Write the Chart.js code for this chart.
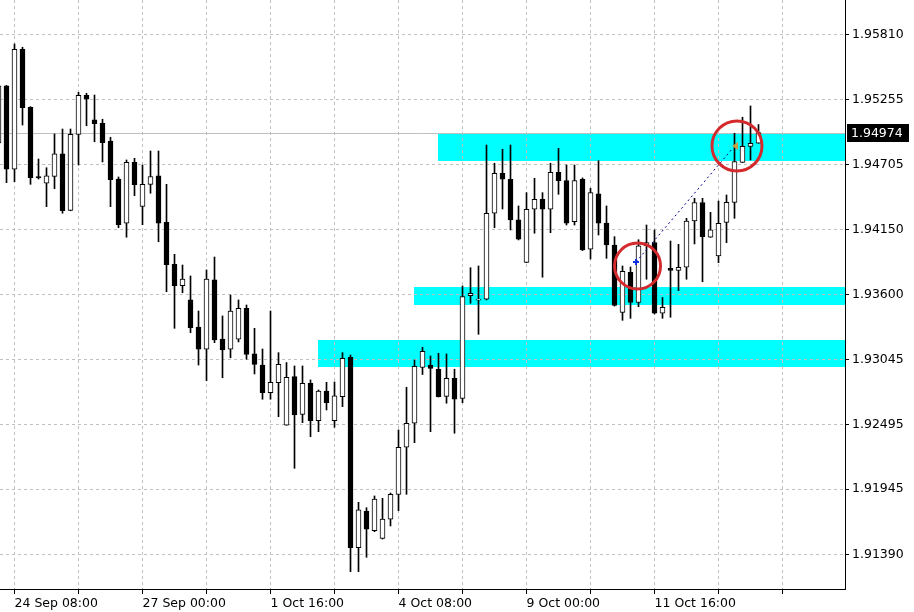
<!DOCTYPE html>
<html>
<head>
<meta charset="utf-8">
<script src="https://cdn.jsdelivr.net/npm/chart.js@4.4.1/dist/chart.umd.min.js"></script>
<style>
  html, body { margin: 0; padding: 0; background: #fff; }
  #wrap { width: 914px; height: 612px; }
</style>
</head>
<body>
<div id="wrap"><canvas id="chart" width="914" height="612"></canvas></div>
<script>
// H4 candles, left to right (first one is cut by the left edge)
const opens = [
  1.94886, 1.95371, 1.94663, 1.95683, 1.95190, 1.94600, 1.94544, 1.94603, 1.94793, 1.94314,
  1.94960, 1.95292, 1.95082, 1.95054, 1.94903, 1.94580, 1.94204, 1.94722, 1.94346, 1.94535,
  1.94606, 1.94212, 1.93855, 1.93673, 1.93552, 1.93322, 1.93133, 1.93722, 1.93220, 1.93133,
  1.93218, 1.93481, 1.93093, 1.92999, 1.92764, 1.92849, 1.92487, 1.92900, 1.92580, 1.92844,
  1.92526, 1.92778, 1.92526, 1.92730, 1.93065, 1.91446, 1.91758, 1.91591, 1.91526, 1.91688,
  1.91900, 1.92300, 1.92504, 1.92978, 1.92999, 1.92963, 1.92733, 1.92886, 1.92716, 1.93588,
  1.93550, 1.93558, 1.94289, 1.94629, 1.94578, 1.94232, 1.93872, 1.94323, 1.94408, 1.94323,
  1.94637, 1.94566, 1.94217, 1.94578, 1.93983, 1.94453, 1.94206, 1.94019, 1.93445, 1.93787,
  1.93530, 1.94013, 1.94040, 1.93439, 1.93821, 1.93804, 1.93830, 1.94223, 1.94380, 1.94085,
  1.93926, 1.94212, 1.94382, 1.94722, 1.94856, 1.94884
];
const highs = [
  1.95380, 1.95375, 1.95728, 1.95700, 1.95195, 1.94750, 1.94676, 1.94963, 1.95005, 1.95005,
  1.95317, 1.95309, 1.95294, 1.95088, 1.94935, 1.94597, 1.94742, 1.94756, 1.94699, 1.94818,
  1.94818, 1.94535, 1.93940, 1.93849, 1.93756, 1.93458, 1.93807, 1.93917, 1.93416, 1.93594,
  1.93552, 1.93509, 1.93311, 1.93135, 1.93458, 1.93104, 1.93020, 1.92991, 1.92991, 1.92872,
  1.92787, 1.92852, 1.92855, 1.93104, 1.93084, 1.91832, 1.91786, 1.91886, 1.91866, 1.91911,
  1.92447, 1.92810, 1.93042, 1.93150, 1.93076, 1.93099, 1.93093, 1.92963, 1.93671, 1.93826,
  1.93841, 1.94869, 1.94714, 1.94833, 1.94869, 1.94351, 1.94464, 1.94586, 1.94464, 1.94714,
  1.94841, 1.94699, 1.94699, 1.94589, 1.94501, 1.94736, 1.94351, 1.94090, 1.93841, 1.93832,
  1.94064, 1.94189, 1.94147, 1.93573, 1.94053, 1.94025, 1.94246, 1.94416, 1.94416, 1.94297,
  1.94393, 1.94444, 1.94969, 1.95105, 1.95201, 1.95043
];
const lows = [
  1.94827, 1.94549, 1.94557, 1.95039, 1.94535, 1.94580, 1.94345, 1.94498, 1.94289, 1.94310,
  1.94699, 1.95033, 1.94897, 1.94725, 1.94345, 1.94166, 1.94085, 1.94438, 1.94192, 1.94459,
  1.94047, 1.93622, 1.93311, 1.93614, 1.93274, 1.92999, 1.92866, 1.93189, 1.92891, 1.93061,
  1.93195, 1.93048, 1.92923, 1.92708, 1.92708, 1.92560, 1.92487, 1.92121, 1.92509, 1.92390,
  1.92432, 1.92617, 1.92470, 1.92645, 1.91242, 1.91242, 1.91365, 1.91582, 1.91520, 1.91631,
  1.91761, 1.91900, 1.92339, 1.92918, 1.92432, 1.92727, 1.92674, 1.92419, 1.92679, 1.93524,
  1.93260, 1.93552, 1.94166, 1.94325, 1.94147, 1.94062, 1.93869, 1.94119, 1.93745, 1.94124,
  1.94450, 1.94189, 1.94189, 1.93972, 1.93900, 1.94104, 1.93906, 1.93500, 1.93379, 1.93396,
  1.93495, 1.93728, 1.93433, 1.93396, 1.93405, 1.93631, 1.93728, 1.94028, 1.93707, 1.94083,
  1.93869, 1.94039, 1.94246, 1.94720, 1.94742, 1.94884
];
const closes = [
  1.95371, 1.94663, 1.95683, 1.95186, 1.94591, 1.94590, 1.94606, 1.94793, 1.94311, 1.94960,
  1.95292, 1.95258, 1.95050, 1.94889, 1.94574, 1.94192, 1.94722, 1.94532, 1.94535, 1.94601,
  1.94204, 1.93852, 1.93673, 1.93730, 1.93316, 1.93133, 1.93730, 1.93212, 1.93127, 1.93458,
  1.93481, 1.93090, 1.93005, 1.92764, 1.92852, 1.93005, 1.92895, 1.92574, 1.92844, 1.92526,
  1.92778, 1.92679, 1.92736, 1.93056, 1.91446, 1.91767, 1.91603, 1.91860, 1.91690, 1.91900,
  1.92300, 1.92504, 1.92988, 1.93116, 1.92971, 1.92730, 1.92886, 1.92708, 1.93580, 1.93609,
  1.93560, 1.94289, 1.94629, 1.94578, 1.94232, 1.94068, 1.94323, 1.94408, 1.94323, 1.94637,
  1.94566, 1.94204, 1.94566, 1.93977, 1.94464, 1.94204, 1.94019, 1.93505, 1.93796, 1.93530,
  1.94011, 1.94040, 1.93439, 1.93490, 1.93804, 1.93830, 1.94223, 1.94380, 1.94090, 1.94147,
  1.94204, 1.94382, 1.94729, 1.94858, 1.94884, 1.94974
];

// price scale labels on the right
const tickPrices = [1.95810, 1.95255, 1.94705, 1.94150, 1.93600, 1.93045, 1.92495, 1.91945, 1.91390];
// time labels and the bar they sit on
const timeLabels = ['24 Sep 08:00', '27 Sep 00:00', '1 Oct 16:00', '4 Oct 08:00', '9 Oct 00:00', '11 Oct 16:00'];
const timeLabelBars = [2, 18, 34, 50, 66, 82];

// support / resistance zones: from bar, top price, bottom price
const zoneFrom = [54.94, 51.94, 39.94];
const zoneTop = [1.94971, 1.93662, 1.93212];
const zoneBottom = [1.94733, 1.93509, 1.92982];

// red circles
const circleBars = [79.88, 92.31];
const circlePrices = [1.93841, 1.94861];

// dotted trend arrow: start (cross) and end (triangle)
const arrowBars = [79.69, 92.06];
const arrowPrices = [1.93875, 1.94861];

const priceMin = 1.910951, priceMax = 1.961016;
const barMin = 0.1875, barMax = 105.8125;

const bodies = opens.map((o, i) => ({x: i, y: [o, closes[i]]}));
const wicks = lows.map((l, i) => ({x: i, y: [l, highs[i]]}));
const bodyColors = opens.map((o, i) => closes[i] >= o ? '#ffffff' : '#000000');

const drawings = {
  id: 'drawings',
  beforeDraw(chart) {
    const {ctx, chartArea: a, scales: {x, y}} = chart;
    ctx.save();
    ctx.fillStyle = '#ffffff';
    ctx.fillRect(0, 0, chart.width, chart.height);
    ctx.fillStyle = '#00ffff';
    for (let k = 0; k < zoneFrom.length; k++) {
      const x0 = Math.round(x.getPixelForValue(zoneFrom[k]));
      const y0 = Math.round(y.getPixelForValue(zoneTop[k]));
      const y1 = Math.round(y.getPixelForValue(zoneBottom[k]));
      ctx.fillRect(x0, y0, a.right - x0, y1 - y0);
    }
    ctx.restore();
  },
  beforeDatasetsDraw(chart) {
    const {ctx, chartArea: a, scales: {y}} = chart;
    const py = Math.round(y.getPixelForValue(closes[closes.length - 1])) + 0.5;
    ctx.save();
    ctx.strokeStyle = '#c0c0c0';
    ctx.lineWidth = 1;
    ctx.beginPath();
    ctx.moveTo(a.left, py);
    ctx.lineTo(a.right, py);
    ctx.stroke();
    ctx.restore();
  },
  afterDatasetsDraw(chart) {
    const {ctx, scales: {x, y}} = chart;
    const x0 = x.getPixelForValue(arrowBars[0]), y0 = y.getPixelForValue(arrowPrices[0]);
    const x1 = x.getPixelForValue(arrowBars[1]), y1 = y.getPixelForValue(arrowPrices[1]);
    ctx.save();
    // dotted line
    ctx.strokeStyle = '#000090';
    ctx.lineWidth = 1;
    ctx.setLineDash([2, 3]);
    ctx.beginPath();
    ctx.moveTo(x0, y0);
    ctx.lineTo(x1 - 2, y1 + 2);
    ctx.stroke();
    ctx.setLineDash([]);
    // circles
    ctx.strokeStyle = '#d42a2e';
    ctx.lineWidth = 3;
    const radii = [23, 25];
    for (let k = 0; k < circleBars.length; k++) {
      ctx.beginPath();
      ctx.arc(x.getPixelForValue(circleBars[k]), y.getPixelForValue(circlePrices[k]), radii[k], 0, Math.PI * 2);
      ctx.stroke();
    }
    // start cross
    ctx.strokeStyle = '#1030e0';
    ctx.lineWidth = 2;
    ctx.beginPath();
    ctx.moveTo(x0 - 3, y0); ctx.lineTo(x0 + 3, y0);
    ctx.moveTo(x0, y0 - 3); ctx.lineTo(x0, y0 + 3);
    ctx.stroke();
    // end triangle
    ctx.fillStyle = '#c8a040';
    ctx.beginPath();
    ctx.moveTo(x1 - 3, y1);
    ctx.lineTo(x1 + 3, y1 - 4);
    ctx.lineTo(x1 + 3, y1 + 4);
    ctx.closePath();
    ctx.fill();
    ctx.restore();
  },
  afterDraw(chart) {
    const {ctx, chartArea: a, scales: {y}} = chart;
    const last = closes[closes.length - 1];
    const py = Math.round(y.getPixelForValue(last));
    ctx.save();
    ctx.fillStyle = '#000000';
    ctx.fillRect(a.right + 2, py - 9, 62, 18);
    ctx.fillStyle = '#ffffff';
    ctx.font = '12.5px "DejaVu Sans"';
    ctx.textBaseline = 'middle';
    ctx.fillText(last.toFixed(5), a.right + 6, py + 1);
    ctx.restore();
  }
};

const axisFont = {family: 'DejaVu Sans', size: 12.5};

new Chart(document.getElementById('chart'), {
  type: 'bar',
  data: {
    datasets: [
      {
        data: bodies,
        backgroundColor: bodyColors,
        borderColor: '#000000',
        borderWidth: 1,
        borderSkipped: false,
        barThickness: 5,
        grouped: false
      },
      {
        data: wicks,
        backgroundColor: '#000000',
        borderWidth: 0,
        barThickness: 1,
        grouped: false
      }
    ]
  },
  options: {
    responsive: false,
    animation: false,
    events: [],
    layout: {padding: 0},
    plugins: {legend: {display: false}, tooltip: {enabled: false}},
    scales: {
      x: {
        type: 'linear',
        min: barMin,
        max: barMax,
        bounds: 'data',
        offset: false,
        grid: {color: '#c0c0c0', offset: false, tickLength: 5, tickColor: '#000000', tickBorderDash: []},
        border: {display: true, color: '#000000', width: 1, dash: [3, 3]},
        ticks: {
          autoSkip: false,
          maxRotation: 0,
          align: 'start',
          padding: 2,
          color: '#000000',
          font: axisFont,
          callback: v => {
            const k = timeLabelBars.indexOf(v);
            return k >= 0 ? timeLabels[k] : '';
          }
        },
        afterBuildTicks: s => {
          s.ticks = [];
          for (let v = timeLabelBars[0]; v < barMax; v += 8) s.ticks.push({value: v});
        },
        afterFit: s => { s.height = 23; s.paddingLeft = 0; s.paddingRight = 0; }
      },
      y: {
        type: 'linear',
        position: 'right',
        min: priceMin,
        max: priceMax,
        bounds: 'data',
        beginAtZero: false,
        grid: {color: '#c0c0c0', tickLength: 4, tickColor: '#000000', tickBorderDash: []},
        border: {display: true, color: '#000000', width: 1, dash: [3, 3]},
        ticks: {
          autoSkip: false,
          padding: 3,
          color: '#000000',
          font: axisFont,
          callback: v => v.toFixed(5)
        },
        afterBuildTicks: s => { s.ticks = tickPrices.map(v => ({value: v})); },
        afterFit: s => { s.width = 69; s.paddingTop = 0; s.paddingBottom = 0; }
      }
    }
  },
  plugins: [drawings]
});
</script>
</body>
</html>
